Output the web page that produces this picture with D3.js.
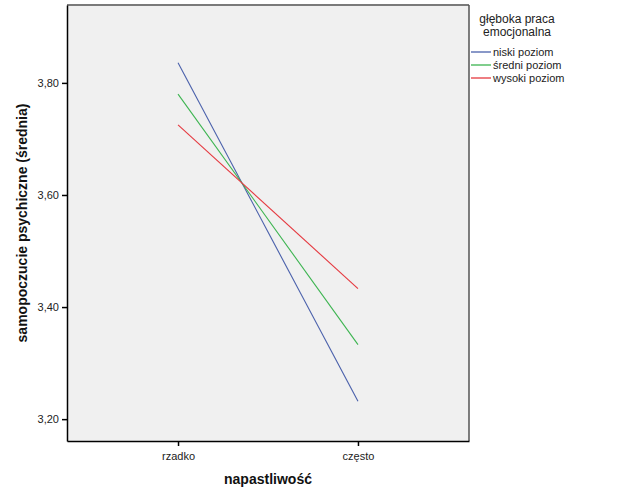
<!DOCTYPE html>
<html>
<head>
<meta charset="utf-8">
<script src="https://cdn.jsdelivr.net/npm/d3@7"></script>
<style>
  body { margin: 0; background: #fff; }
  text { font-family: "Liberation Sans", Arial, sans-serif; }
</style>
</head>
<body>
<div id="chart"></div>
<script>
// data
const categories = ['rzadko', 'często'];
const seriesNames = ['niski poziom', 'średni poziom', 'wysoki poziom'];
const seriesColors = ['#4a60ab', '#3cb450', '#e5383f'];
const niski = [3.836, 3.232];
const sredni = [3.780, 3.333];
const wysoki = [3.725, 3.433];
const yTicks = [3.2, 3.4, 3.6, 3.8];

const seriesValues = [niski, sredni, wysoki];

const width = 626, height = 501;
const plot = { left: 67, top: 5, right: 469, bottom: 441 };

const svg = d3.select('#chart').append('svg')
  .attr('width', width)
  .attr('height', height);

const x = d3.scalePoint()
  .domain(categories)
  .range([plot.left, plot.right])
  .padding(0.617);

const y = d3.scaleLinear()
  .domain([3.161, 3.939])
  .range([plot.bottom, plot.top]);

// plot background
svg.append('rect')
  .attr('x', plot.left)
  .attr('y', plot.top)
  .attr('width', plot.right - plot.left)
  .attr('height', plot.bottom - plot.top)
  .attr('fill', '#f0f0f0')
  .attr('stroke', 'none');

// lines
const line = d3.line()
  .x((d, i) => x(categories[i]))
  .y(d => y(d));

svg.append('g').attr('class', 'lines')
  .selectAll('path')
  .data(seriesValues)
  .enter().append('path')
  .attr('d', d => line(d))
  .attr('fill', 'none')
  .attr('stroke', (d, i) => seriesColors[i])
  .attr('stroke-width', 1.1);

// frame
svg.append('line')
  .attr('x1', plot.left).attr('x2', plot.right)
  .attr('y1', plot.top).attr('y2', plot.top)
  .attr('stroke', '#7a7a7a').attr('stroke-width', 2);
svg.append('line')
  .attr('x1', plot.right).attr('x2', plot.right)
  .attr('y1', plot.top).attr('y2', plot.bottom)
  .attr('stroke', '#555').attr('stroke-width', 1.5);

const yAxis = d3.axisLeft(y)
  .tickValues(yTicks)
  .tickSizeInner(5)
  .tickSizeOuter(0)
  .tickPadding(3)
  .tickFormat(d => d3.format('.2f')(d).replace('.', ','));

svg.append('g')
  .attr('class', 'y axis')
  .attr('transform', `translate(${plot.left},0)`)
  .call(yAxis)
  .call(g => g.select('.domain').attr('stroke', '#000').attr('stroke-width', 1.5))
  .call(g => g.selectAll('.tick line').attr('stroke', '#000').attr('stroke-width', 1.5))
  .call(g => g.selectAll('.tick text').attr('font-size', '11px').attr('fill', '#222')
    .style('font-family', '"Liberation Sans", Arial, sans-serif'));

const xAxis = d3.axisBottom(x)
  .tickSizeInner(5)
  .tickSizeOuter(0)
  .tickPadding(6);

svg.append('g')
  .attr('class', 'x axis')
  .attr('transform', `translate(0,${plot.bottom})`)
  .call(xAxis)
  .call(g => g.select('.domain').attr('stroke', '#000').attr('stroke-width', 1.5))
  .call(g => g.selectAll('.tick line').attr('stroke', '#000').attr('stroke-width', 1.5))
  .call(g => g.selectAll('.tick text').attr('font-size', '11px').attr('fill', '#222')
    .style('font-family', '"Liberation Sans", Arial, sans-serif'));

// axis titles
svg.append('text')
  .attr('x', (plot.left + plot.right) / 2)
  .attr('y', 484)
  .attr('text-anchor', 'middle')
  .attr('font-size', '14px')
  .attr('font-weight', 'bold')
  .attr('fill', '#111')
  .text('napastliwość');

svg.append('text')
  .attr('transform', `translate(27,${(plot.top + plot.bottom) / 2}) rotate(-90)`)
  .attr('text-anchor', 'middle')
  .attr('font-size', '14px')
  .attr('font-weight', 'bold')
  .attr('fill', '#111')
  .text('samopoczucie psychiczne (średnia)');

// legend
const legend = svg.append('g').attr('class', 'legend');
legend.append('text')
  .attr('x', 517).attr('y', 23)
  .attr('text-anchor', 'middle')
  .attr('font-size', '12px')
  .attr('fill', '#222')
  .text('głęboka praca');
legend.append('text')
  .attr('x', 517).attr('y', 36)
  .attr('text-anchor', 'middle')
  .attr('font-size', '12px')
  .attr('fill', '#222')
  .text('emocjonalna');

const item = legend.selectAll('g.item')
  .data(seriesNames)
  .enter().append('g')
  .attr('class', 'item')
  .attr('transform', (d, i) => `translate(0,${52 + i * 13})`);

item.append('line')
  .attr('x1', 471).attr('x2', 491)
  .attr('y1', 0).attr('y2', 0)
  .attr('stroke', (d, i) => seriesColors[i])
  .attr('stroke-width', 1.3);

item.append('text')
  .attr('x', 493).attr('y', 4)
  .attr('font-size', '11px')
  .attr('fill', '#222')
  .text(d => d);
</script>
</body>
</html>
